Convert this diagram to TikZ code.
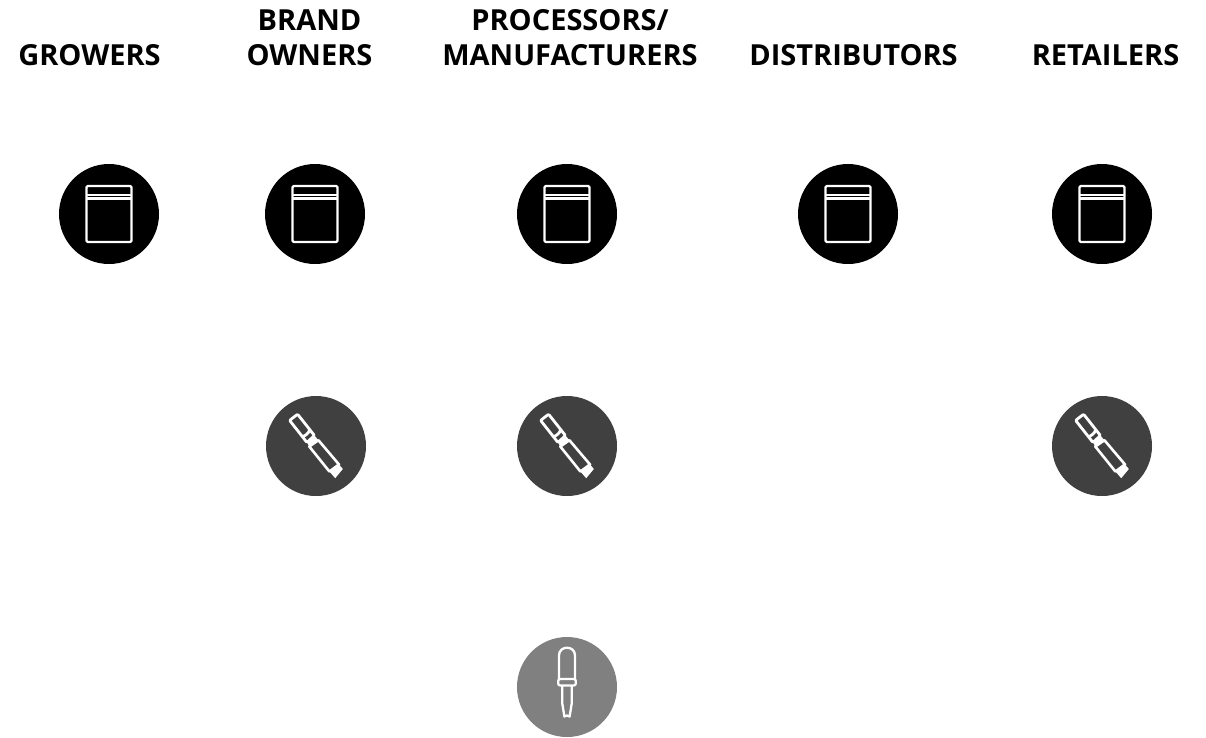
\documentclass[tikz,border=0pt]{standalone}
\usepackage{fontspec}
\setmainfont{Open Sans}
\tikzset{
  x=1pt,y=-1pt,
  head/.style={font=\fontsize{29}{34}\bfseries\selectfont,align=center,text=black,inner sep=0pt,anchor=base},
  disc/.style={circle,minimum size=100pt,inner sep=0pt,draw=none},
  discA/.style={disc,fill=black},
  discB/.style={disc,fill=black!75},
  discC/.style={disc,fill=black!50},
  ink/.style={draw=white,line width=2.3pt,line join=round},
}
\newcommand{\jaricon}[1]{%
  \begin{scope}[shift={(#1)}]
    \draw[ink,rounded corners=1.2pt] (-22.5,-28) rectangle (22.5,28);
    \draw[ink] (-22.5,-19) -- (22.5,-19);
    \draw[ink] (-22.5,-15.5) -- (22.5,-15.5);
  \end{scope}}
\newcommand{\penicon}[1]{%
  \begin{scope}[shift={(#1)}]
    \draw[ink,line width=2.8pt,rounded corners=1pt] (-26.4,-25.6) -- (-18.4,-31.8) -- (-1.6,-10.5) -- (-9,-3.5) -- cycle;
    \draw[ink,line width=2.8pt] (-13,-9.5) .. controls (-10.5,-10.5) and (-7,-13) .. (-6.5,-16);
    \fill[white] (-9,-3.5) -- (-1.6,-10.5) -- (2.4,-5.8) -- (-6.7,0.5) -- cycle;
    \draw[ink,line width=2.6pt] (-6.7,0.5) -- (2.4,-5.8) -- (23,18.5) -- (13.4,25.5) -- cycle;
    \fill[white] (13.4,25.5) -- (22.2,17.5) -- (26.8,23) -- (19.2,32.2) -- cycle;
  \end{scope}}
\newcommand{\dropicon}[1]{%
  \begin{scope}[shift={(#1)}]
    \draw[ink] (-8,-8) -- (-8,-31.5) .. controls (-8,-41.9) and (8,-41.9) .. (8,-31.5) -- (8,-8);
    \draw[ink,rounded corners=2pt] (-8.8,-8) rectangle (8.8,-1.5);
    \draw[ink] (-4.8,-1.5) -- (-4.8,16) -- (-2.6,29.5) -- (0,28.5) -- (2.6,29.5) -- (4.8,16) -- (4.8,-1.5);
  \end{scope}}
\begin{document}
\begin{tikzpicture}
\useasboundingbox (0,0) rectangle (1206,737);
\node[head] (h1) at (89.5,65) {GROWERS};
\node[head] (h2a) at (309.5,30) {BRAND};
\node[head] (h2b) at (309.5,65) {OWNERS};
\node[head] (h3a) at (570,30) {PROCESSORS/};
\node[head] (h3b) at (570,65) {MANUFACTURERS};
\node[head] (h4) at (853.5,65) {DISTRIBUTORS};
\node[head] (h5) at (1105.5,65) {RETAILERS};
\node[discA] (a1) at (109,214) {};
\node[discA] (a2) at (315,214) {};
\node[discA] (a3) at (567,214) {};
\node[discA] (a4) at (848,214) {};
\node[discA] (a5) at (1102,214) {};
\node[discB] (b2) at (316,446) {};
\node[discB] (b3) at (567,446) {};
\node[discB] (b5) at (1102,446) {};
\node[discC] (c3) at (567,687) {};
\jaricon{a1}\jaricon{a2}\jaricon{a3}\jaricon{a4}\jaricon{a5}
\penicon{b2}\penicon{b3}\penicon{b5}
\dropicon{c3}
\end{tikzpicture}
\end{document}
